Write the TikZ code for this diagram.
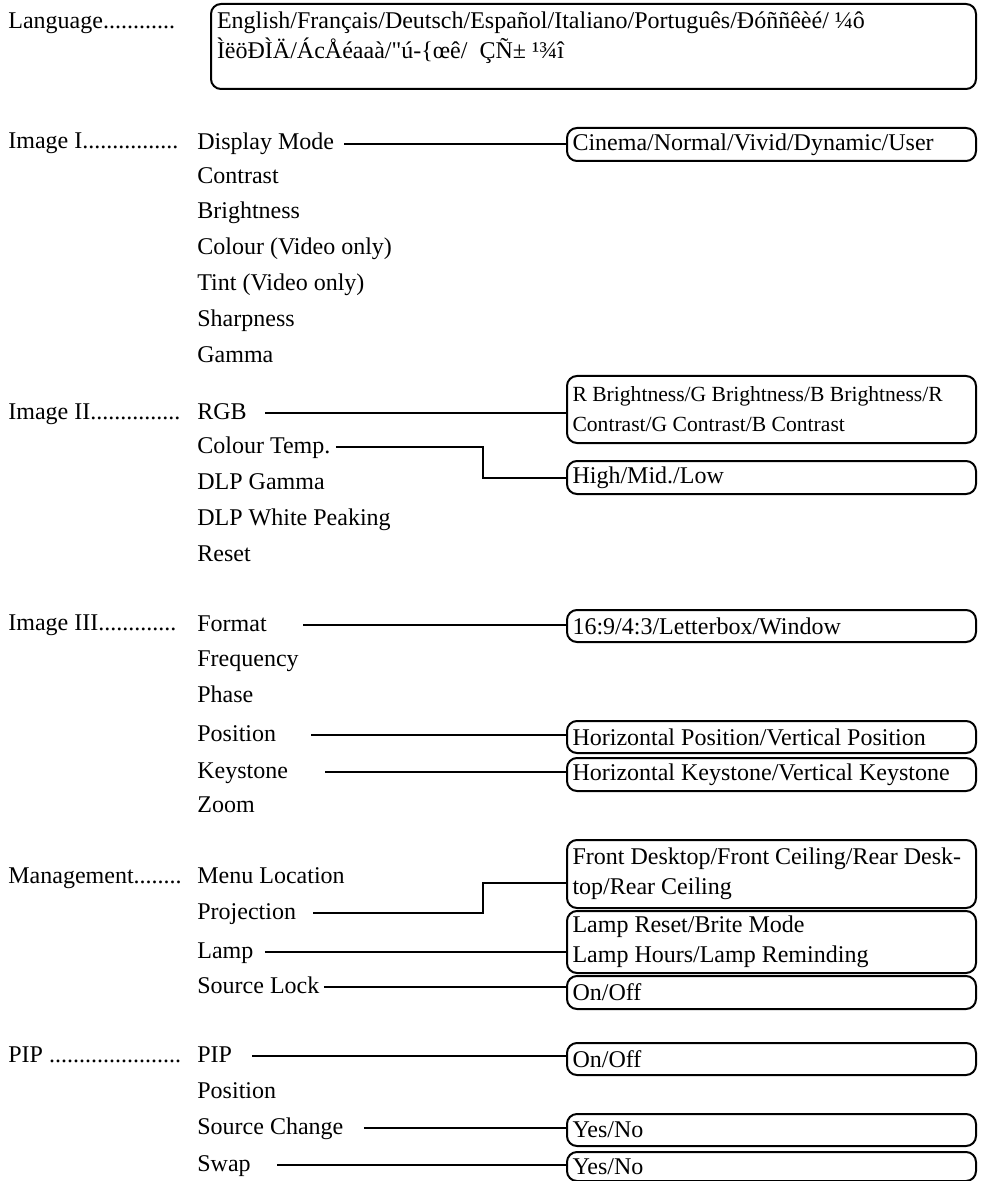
\documentclass[tikz,border=0pt]{standalone}
\usepackage{fontspec}
\setmainfont{Liberation Serif}

\begin{document}
\begin{tikzpicture}[x=0.5pt, y=-0.5pt,
        menu/.style={anchor=west, inner sep=0pt, text height=8.5pt, text depth=2.5pt, font=\fontsize{12}{15}\selectfont},
        optbox/.style={draw, line width=1pt, rounded corners=5pt, anchor=north west, minimum width=204.5pt,
            text width=199pt, inner xsep=2.75pt, inner ysep=0pt, align=flush left, font=\fontsize{12}{15}\selectfont},
        link/.style={line width=1pt}]
        \useasboundingbox (0,0) rectangle (980,1181);

        % Language
        \node[menu] (lang) at (8,23) {Language............};
        \node[draw, line width=1pt, rounded corners=5pt, anchor=north west, minimum width=382.5pt, minimum height=42.5pt,
            inner xsep=3pt, inner ysep=4pt] (langbox) at (210,3)
        {\parbox[t][34.5pt][t]{376.5pt}{\fontsize{12}{15}\selectfont
                English/Français/Deutsch/Español/Italiano/Português/Ðóññêèé/ ¼ô\\
                ÌëöÐÌÄ/ÁcÅéaaà/\textquotedbl ú-\{œê/ \ ÇÑ± ¹¾î}};

        % Image I
        \node[menu] (img1) at (8,143) {Image I................};
        \node[menu] (dm) at (197,144) {Display Mode};
        \node[menu] (con) at (197,178) {Contrast};
        \node[menu] (bri) at (197,213) {Brightness};
        \node[menu] (col) at (197,249) {Colour (Video only)};
        \node[menu] (tint) at (197,285) {Tint (Video only)};
        \node[menu] (shp) at (197,321) {Sharpness};
        \node[menu] (gam) at (197,357) {Gamma};
        \node[optbox, minimum height=16.5pt] (dmbox) at (566,127) {Cinema/Normal/Vivid/Dynamic/User};
        \draw[link, shorten <=5pt] (dm.east) -- (dm.east -| dmbox.west);

        % Image II
        \node[menu] (img2) at (8,413) {Image II...............};
        \node[menu] (rgb) at (197,413) {RGB};
        \node[menu] (ctemp) at (197,447) {Colour Temp.};
        \node[menu] (dlpg) at (197,483) {DLP Gamma};
        \node[menu] (dlpw) at (197,519) {DLP White Peaking};
        \node[menu] (rst) at (197,555) {Reset};
        \node[optbox, minimum height=33.5pt, font=\fontsize{10.8}{15}\selectfont] (rgbbox) at (566,375)
        {R Brightness/G Brightness/B Brightness/R\\Contrast/G Contrast/B Contrast};
        \node[optbox, minimum height=16.5pt] (ctbox) at (566,460) {High/Mid./Low};
        \coordinate (ctbend) at (483,447);
        \draw[link, shorten <=9pt] (rgb.east) -- (rgb.east -| rgbbox.west);
        \draw[link, shorten <=2.5pt] (ctemp.east) -- (ctbend) |- (ctbox.west);

        % Image III
        \node[menu] (img3) at (8,624) {Image III.............};
        \node[menu] (fmt) at (197,625) {Format};
        \node[menu] (frq) at (197,660) {Frequency};
        \node[menu] (pha) at (197,696) {Phase};
        \node[menu] (pos) at (197,735) {Position};
        \node[menu] (key) at (197,772) {Keystone};
        \node[menu] (zm) at (197,806) {Zoom};
        \node[optbox, minimum height=16pt] (fmtbox) at (566,609) {16:9/4:3/Letterbox/Window};
        \node[optbox, minimum height=16pt] (posbox) at (566,720) {Horizontal Position/Vertical Position};
        \node[optbox, minimum height=16.5pt] (keybox) at (566,757) {Horizontal Keystone/Vertical Keystone};
        \draw[link, shorten <=18pt] (fmt.east) -- (fmt.east -| fmtbox.west);
        \draw[link, shorten <=17.5pt] (pos.east) -- (pos.east -| posbox.west);
        \draw[link, shorten <=18.5pt] (key.east) -- (key.east -| keybox.west);

        % Management
        \node[menu] (mgmt) at (8,877) {Management........};
        \node[menu] (mloc) at (197,877) {Menu Location};
        \node[menu] (proj) at (197,913) {Projection};
        \node[menu] (lamp) at (197,952) {Lamp};
        \node[menu] (slock) at (197,987) {Source Lock};
        \node[optbox, minimum height=34pt] (projbox) at (566,839) {Front Desktop/Front Ceiling/Rear Desk-\\top/Rear Ceiling};
        \node[optbox, minimum height=31pt] (lampbox) at (566,910) {Lamp Reset/Brite Mode\\Lamp Hours/Lamp Reminding};
        \node[optbox, minimum height=16.5pt] (slbox) at (566,975) {On/Off};
        \coordinate (projbend) at (483,883);
        \draw[link, shorten <=8.5pt] (proj.east) -- (proj.east -| projbend) -- (projbend) -- (projbend -| projbox.west);
        \draw[link, shorten <=5.5pt] (lamp.east) -- (lamp.east -| lampbox.west);
        \draw[link, shorten <=2pt] (slock.east) -- (slock.east -| slbox.west);

        % PIP
        \node[menu] (pipg) at (8,1056) {PIP ......................};
        \node[menu] (pip) at (197,1056) {PIP};
        \node[menu] (ppos) at (197,1092) {Position};
        \node[menu] (schg) at (197,1128) {Source Change};
        \node[menu] (swap) at (197,1165) {Swap};
        \node[optbox, minimum height=16pt] (pipbox) at (566,1042) {On/Off};
        \node[optbox, minimum height=16pt] (schbox) at (566,1113) {Yes/No};
        \node[optbox, minimum height=14.5pt] (swapbox) at (566,1151) {Yes/No};
        \draw[link, shorten <=10pt] (pip.east) -- (pip.east -| pipbox.west);
        \draw[link, shorten <=10pt] (schg.east) -- (schg.east -| schbox.west);
        \draw[link, shorten <=13pt] (swap.east) -- (swap.east -| swapbox.west);
    \end{tikzpicture}
\end{document}
